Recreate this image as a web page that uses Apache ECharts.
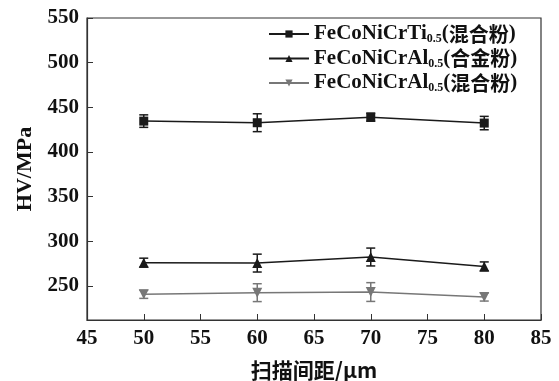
<!DOCTYPE html>
<html><head><meta charset="utf-8">
<script src="https://cdn.jsdelivr.net/npm/echarts@6/dist/echarts.min.js"></script>
<style>html,body{margin:0;padding:0;background:#fff}#c{width:559px;height:381px}</style>
</head><body><div id="c"></div>
<script>
const xValues = [50, 60, 70, 80];
const seriesNames = ['FeCoNiCrTi0.5(混合粉)', 'FeCoNiCrAl0.5(合金粉)', 'FeCoNiCrAl0.5(混合粉)'];
const tiMix = [434.6, 432.8, 439, 432.4];
const tiMixErr = [7, 10, 4.5, 7.5];
const alAlloy = [276.2, 275.7, 282.5, 272];
const alAlloyErr = [5, 10, 10, 5];
const alMix = [240.7, 242.6, 243.3, 237.7];
const alMixErr = [4.5, 10, 10.5, 4.5];
const yTicks = [250, 300, 350, 400, 450, 500, 550];
const xTicks = [45, 50, 55, 60, 65, 70, 75, 80, 85];

const colors = ['#1a1a1a', '#1a1a1a', '#777777'];
const symbols = ['rect', 'triangle', 'path://M0,0 L10,0 L5,9 Z'];
const symSizes = [9, 10, 10];
const vals = [tiMix, alAlloy, alMix];
const errs = [tiMixErr, alAlloyErr, alMixErr];

const chart = echarts.init(document.getElementById('c'));
const series = [];
vals.forEach((v, i) => {
  series.push({
    name: seriesNames[i], type: 'line',
    data: xValues.map((x, j) => [x, v[j]]),
    symbol: symbols[i], symbolSize: symSizes[i],
    lineStyle: {color: colors[i], width: 1.5},
    itemStyle: {color: colors[i]},
    z: 3
  });
  series.push({
    type: 'custom',
    data: xValues.map((x, j) => [x, v[j] - errs[i][j], v[j] + errs[i][j]]),
    renderItem: function (params, api) {
      const lo = api.coord([api.value(0), api.value(1)]);
      const hi = api.coord([api.value(0), api.value(2)]);
      const w = 4.5;
      const st = {stroke: colors[i], lineWidth: 1.5};
      return {type: 'group', children: [
        {type: 'line', shape: {x1: lo[0], y1: lo[1], x2: hi[0], y2: hi[1]}, style: st},
        {type: 'line', shape: {x1: lo[0]-w, y1: lo[1], x2: lo[0]+w, y2: lo[1]}, style: st},
        {type: 'line', shape: {x1: hi[0]-w, y1: hi[1], x2: hi[0]+w, y2: hi[1]}, style: st}
      ]};
    },
    z: 2, silent: true
  });
});

const fontSerif = '"Liberation Serif","DejaVu Serif",serif';
chart.setOption({
  animation: false,
  grid: {left: 87, right: 18, top: 18, bottom: 61, outerBoundsMode: 'none', containLabel: false,
         show: true, borderColor: '#333', borderWidth: 1.2, backgroundColor: 'transparent'},
  legend: {
    orient: 'vertical', left: 263, top: 18, itemWidth: 40, itemHeight: 9, itemGap: 2.5,
    data: seriesNames,
    formatter: function (name) {
      const m = name.match(/^(FeCoNiCr(?:Ti|Al))0\.5\((.*)\)$/);
      return '{a|' + m[1] + '}{s|0.5}{a|(}{c|' + m[2] + '}{a|)}';
    },
    textStyle: {
      rich: {
        a: {fontFamily: fontSerif, fontWeight: 'bold', fontSize: 21, color: '#111', lineHeight: 22},
        s: {fontFamily: fontSerif, fontWeight: 'bold', fontSize: 12, color: '#111', padding: [10, 0, 0, 0], lineHeight: 22},
        c: {fontFamily: '"Noto Sans CJK SC"', fontWeight: 'bold', fontSize: 20, color: '#111', lineHeight: 22}
      }
    }
  },
  xAxis: {
    type: 'value', min: 45, max: 85, interval: 5,
    name: '扫描间距/μm', nameLocation: 'middle', nameGap: 40,
    nameTextStyle: {fontFamily: '"Noto Sans CJK SC"', fontWeight: 'bold', fontSize: 21, color: '#111'},
    axisLine: {lineStyle: {color: '#333', width: 1.2}},
    axisTick: {inside: true, length: 6, lineStyle: {color: '#333'}},
    axisLabel: {fontFamily: fontSerif, fontWeight: 'bold', fontSize: 21, color: '#111', margin: 8},
    splitLine: {show: false}
  },
  yAxis: {
    type: 'value', min: 212, max: 550,
    name: 'HV/MPa', nameLocation: 'middle', nameGap: 51,
    nameTextStyle: {fontFamily: fontSerif, fontWeight: 'bold', fontSize: 22, color: '#111'},
    axisLine: {lineStyle: {color: '#333', width: 1.2}},
    axisTick: {inside: true, length: 6, customValues: yTicks, lineStyle: {color: '#333'}},
    axisLabel: {fontFamily: fontSerif, fontWeight: 'bold', fontSize: 21, color: '#111', margin: 8, customValues: yTicks},
    splitLine: {show: false}
  },
  series: series
});
</script></body></html>
